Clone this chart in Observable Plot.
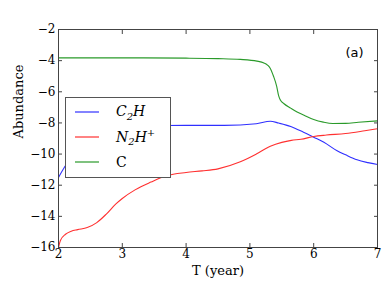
<!DOCTYPE html>
<html><head><meta charset="utf-8">
<script src="https://cdn.jsdelivr.net/npm/d3@7"></script>
<script src="https://cdn.jsdelivr.net/npm/@observablehq/plot@0.6"></script>
<style>
body{margin:0;background:#fff;}
#wrap{position:relative;width:382px;height:291px;}
#legend{position:absolute;left:65px;top:97px;width:106px;height:81px;border:1px solid #555;background:#fff;box-sizing:border-box;font-family:"DejaVu Serif",serif;font-size:14px;}
.row{position:absolute;left:9px;height:20px;display:flex;align-items:center;}
.row svg{width:24px;height:4px;margin-right:17px;}
.math{font-style:italic;}
sub,sup{font-size:10px;font-style:italic;}
</style></head>
<body><div id="wrap"></div>
<script>
const xTicks = [2, 3, 4, 5, 6, 7];
const yTicks = [-16, -14, -12, -10, -8, -6, -4, -2];
const xLabel = "T (year)";
const yLabel = "Abundance";

const tC2H = [2, 2.1, 2.25, 2.45, 2.7, 3.0, 3.5, 4.0, 4.6, 5.1, 5.32, 5.45, 5.64, 5.84, 6.0, 6.16, 6.36, 6.5, 6.68, 6.85, 7.0];
const vC2H = [-11.5, -10.8, -9.9, -9.0, -8.5, -8.25, -8.17, -8.16, -8.16, -8.05, -7.89, -8.01, -8.23, -8.6, -8.92, -9.24, -9.77, -10.05, -10.37, -10.55, -10.67];

const tN2H = [2, 2.03, 2.11, 2.2, 2.3, 2.45, 2.6, 2.75, 2.9, 3.0, 3.2, 3.45, 3.7, 4.0, 4.25, 4.5, 4.85, 5.1, 5.32, 5.5, 5.65, 5.8, 6.0, 6.2, 6.5, 6.8, 7.0];
const vN2H = [-16, -15.55, -15.15, -14.95, -14.85, -14.72, -14.4, -13.85, -13.2, -12.85, -12.3, -11.8, -11.38, -11.18, -11.08, -10.95, -10.5, -10.0, -9.5, -9.25, -9.12, -9.05, -8.87, -8.78, -8.68, -8.5, -8.37];

const tC = [2, 3, 4, 4.5, 4.85, 5.11, 5.22, 5.28, 5.32, 5.37, 5.42, 5.45, 5.48, 5.53, 5.64, 5.74, 5.87, 6.0, 6.15, 6.3, 6.5, 6.7, 7.0];
const vC = [-3.82, -3.82, -3.84, -3.87, -3.92, -4.03, -4.15, -4.3, -4.5, -5.0, -5.65, -6.25, -6.55, -6.75, -7.05, -7.3, -7.55, -7.78, -7.95, -8.04, -8.03, -7.96, -7.87];

const series = [
  {name: "C2H", t: tC2H, v: vC2H, color: "#3030ff"},
  {name: "N2H+", t: tN2H, v: vN2H, color: "#ff3030"},
  {name: "C", t: tC, v: vC, color: "#2a9a2a"}
];

const fmt = d3.format("d");
const lines = series.map(s => Plot.line(s.t.map((t, i) => ({t, v: s.v[i]})), {x: "t", y: "v", stroke: s.color, strokeWidth: 1.1, curve: "monotone-x"}));

const chart = Plot.plot({
  width: 382, height: 291,
  marginLeft: 58, marginRight: 5, marginTop: 29, marginBottom: 44,
  style: {fontFamily: "DejaVu Serif, serif", fontSize: "12px", color: "#000", background: "#fff"},
  x: {domain: [2, 7]},
  y: {domain: [-16, -2]},
  marks: [
    ...lines,
    Plot.frame({stroke: "#444", strokeWidth: 1}),
    Plot.axisX(xTicks, {anchor: "bottom", tickSize: -4, tickPadding: 6, tickFormat: fmt, label: null, stroke: "#444"}),
    Plot.axisX(xTicks, {anchor: "top", tickSize: -4, tickFormat: () => "", label: null, stroke: "#444"}),
    Plot.axisY(yTicks, {anchor: "left", tickSize: -4, tickPadding: 7, tickFormat: fmt, label: null, stroke: "#444"}),
    Plot.axisY(yTicks, {anchor: "right", tickSize: -4, tickFormat: () => "", label: null, stroke: "#444"}),
    Plot.text([xLabel], {frameAnchor: "bottom", dy: 27, fontSize: 13}),
    Plot.text([yLabel], {frameAnchor: "left", dx: -40, rotate: -90, fontSize: 13}),
    Plot.text(["(a)"], {frameAnchor: "top-right", dx: -14, dy: 18, fontFamily: "DejaVu Sans, sans-serif", fontSize: 13})
  ]
});
const wrap = document.getElementById("wrap");
wrap.appendChild(chart);

const legend = document.createElement("div");
legend.id = "legend";
const labels = [
  '<span class="math">C</span><sub>2</sub><span class="math">H</span>',
  '<span class="math">N</span><sub>2</sub><span class="math">H</span><sup>+</sup>',
  '<span>C</span>'
];
series.forEach((s, i) => {
  const row = document.createElement("div");
  row.className = "row";
  row.style.top = (4 + i * 25) + "px";
  row.innerHTML = `<svg><line x1="0" x2="24" y1="2" y2="2" stroke="${s.color}" stroke-opacity="0.6" stroke-width="2"/></svg><span>${labels[i]}</span>`;
  legend.appendChild(row);
});
wrap.appendChild(legend);
</script></body></html>
